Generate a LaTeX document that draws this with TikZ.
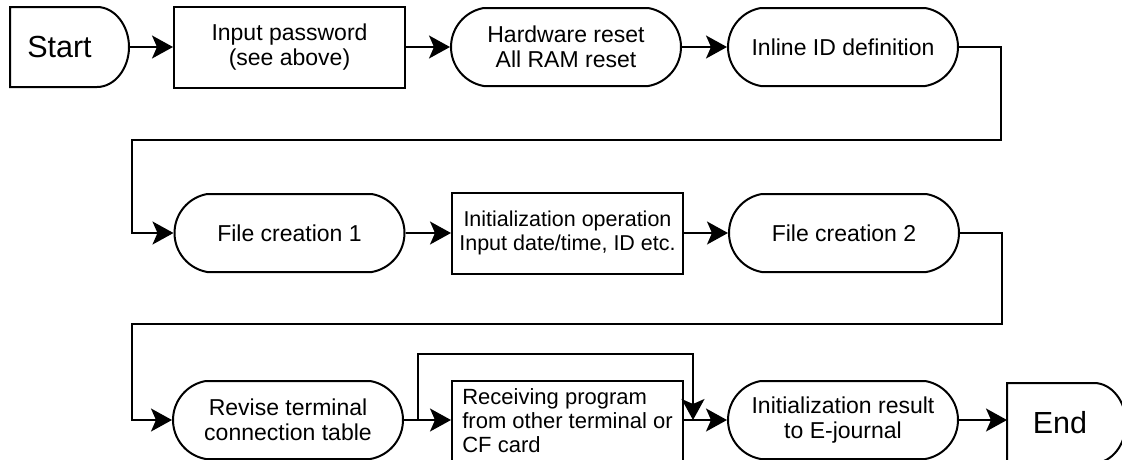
\documentclass[tikz,border=0pt]{standalone}
\usepackage{fontspec}
\setmainfont{Liberation Sans}
\usetikzlibrary{arrows.meta,shapes.misc}

\begin{document}
\begin{tikzpicture}[x=1pt, y=-1pt,
    >={Stealth[length=21pt, width=23pt, inset=5pt]},
    every node/.style={inner sep=0pt, line width=2pt},
    txt/.style={font=\fontsize{23}{25}\selectfont, align=center},
    term/.style={draw, rounded rectangle, rounded rectangle arc length=160,
                 minimum width=230pt, minimum height=78pt, txt},
    proc/.style={draw, rectangle, minimum width=231pt, minimum height=81pt, txt},
    startend/.style={rectangle, minimum width=117pt, minimum height=78pt,
                 font=\fontsize{30.5}{34}\selectfont},
    flow/.style={->, line width=1.7pt}]
  \useasboundingbox (0,0) rectangle (1122,459);
  \clip (0,0) rectangle (1122,459);

  % first row
  \node[startend] (start) at (69.5,47) {Start\hspace*{20pt}};
  \node[proc] (pwd) at (289.5,47) {Input password\\(see above)};
  \node[term] (hwreset) at (566,47) {Hardware reset\\All RAM reset};
  \node[term] (inlineid) at (843,47) {Inline ID definition};

  % second row
  \node[term] (file1) at (289.5,233) {File creation 1};
  \node[proc, font=\fontsize{21.5}{24}\selectfont] (initop) at (567.5,233)
      {Initialization operation\\Input date/time, ID etc.};
  \node[term] (file2) at (844,233) {File creation 2};

  % third row
  \node[term] (revise) at (288,420) {Revise terminal\\connection table};
  \node[proc, align=left, font=\fontsize{22}{24}\selectfont]
      (receive) at (567.5,421) {Receiving program\\from other terminal or\\CF card};
  \node[term] (initres) at (843,420) {Initialization result\\to E-journal};
  \node[startend] (finish) at (1066.5,423) {End\hspace*{13pt}};

  % start and end outlines: flat left side, rounded right side
  \foreach \n in {start,finish}
    \draw[line width=2pt] (\n.north west) -- ([xshift=-32pt]\n.north east)
      .. controls ([xshift=-14.3pt]\n.north east) and ([yshift=21.5pt]\n.east) .. (\n.east)
      .. controls ([yshift=-21.5pt]\n.east) and ([xshift=-14.3pt]\n.south east)
      .. ([xshift=-32pt]\n.south east) -- (\n.south west) -- cycle;

  \coordinate (split) at (418,420);
  \coordinate (merge) at (693,420);

  \draw[flow] (start) -- (pwd);
  \draw[flow] (pwd) -- (hwreset);
  \draw[flow] (hwreset) -- (inlineid);
  \draw[flow] (inlineid.east) -- ++(42,0) -- ++(0,93) -- (132,140) |- (file1.west);
  \draw[flow] (file1) -- (initop);
  \draw[flow] (initop) -- (file2);
  \draw[flow] (file2.east) -- ++(42,0) -- ++(0,91) -- (132,324) |- (revise.west);
  \draw[flow] (revise.east) -- (revise.east -| receive.west);
  \draw[flow] (split) |- (693,354) -- (merge);
  \draw[flow] (receive.east |- initres.west) -- (initres.west);
  \draw[flow] (initres) -- (initres -| finish.west);
\end{tikzpicture}
\end{document}
